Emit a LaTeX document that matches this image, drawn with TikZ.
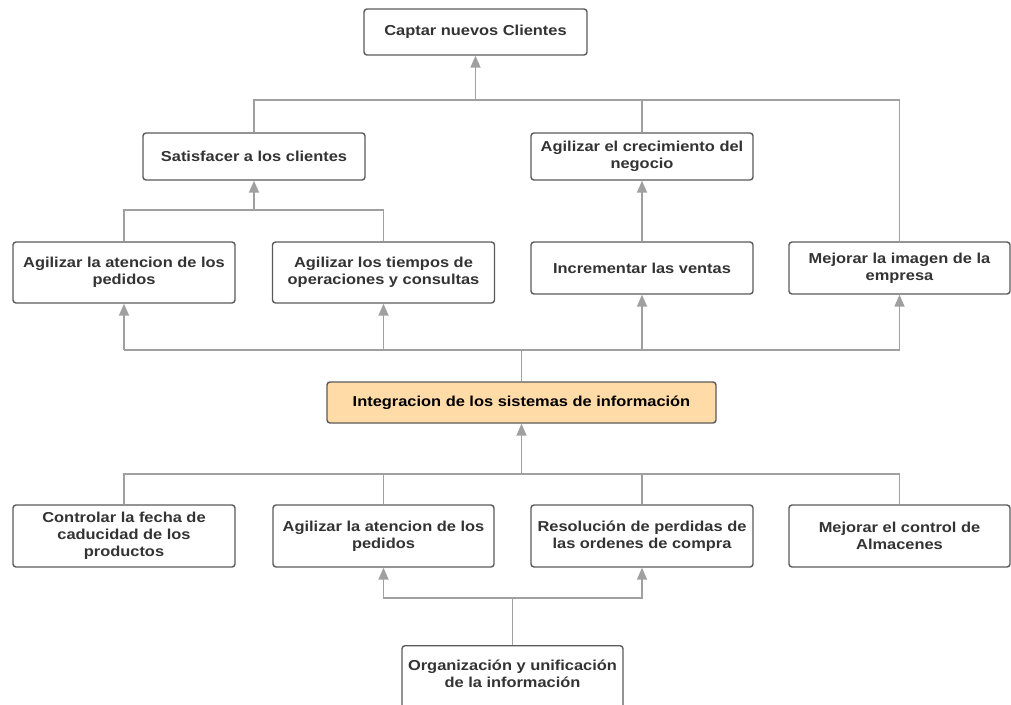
\documentclass[tikz,border=0pt]{standalone}
\usepackage{fontspec}
\setmainfont{Liberation Sans}[FakeStretch=1.14]
\usetikzlibrary{arrows.meta}
\definecolor{boxline}{HTML}{5A5A5A}
\definecolor{conn}{HTML}{A0A0A0}
\definecolor{txt}{HTML}{333333}
\definecolor{keyfill}{HTML}{FFDBA8}
\begin{document}
\begin{tikzpicture}[x=1pt,y=-1pt,
  box/.style={draw=boxline, line width=1.4pt, rounded corners=3pt, fill=white,
    minimum width=222pt, align=center, inner sep=2pt,
    font=\fontsize{14.4}{16.8}\selectfont\bfseries, text=txt},
  line/.style={draw=conn, line width=1.8pt},
  arr/.style={line, -{Triangle[width=10pt,length=12pt]}}]
\useasboundingbox (0,0) rectangle (1011,704);

% goals
\node[box, minimum width=223pt, minimum height=46pt] (captar) at (475.5,32) {Captar nuevos Clientes};
\node[box, minimum height=47pt] (sat) at (254,156.5) {Satisfacer a los clientes};
\node[box, minimum height=47pt] (crec) at (642,156.5) {Agilizar el crecimiento del\\negocio};
\node[box, minimum height=61pt] (at1) at (124,272.5) {Agilizar la atencion de los\\pedidos};
\node[box, minimum height=61pt] (at2) at (383.5,272.5) {Agilizar los tiempos de\\operaciones y consultas};
\node[box, minimum height=52pt] (inc) at (642,268) {Incrementar las ventas};
\node[box, minimum width=221pt, minimum height=52pt] (mej) at (899.5,268) {Mejorar la imagen de la\\empresa};

% central node
\node[box, fill=keyfill, text=black, minimum width=389pt, minimum height=41pt] (integ) at (521.5,402.5) {Integracion de los sistemas de información};

% bottom row
\node[box, minimum height=62pt] (b1) at (124,536) {Controlar la fecha de\\caducidad de los\\productos};
\node[box, minimum width=221pt, minimum height=62pt] (b2) at (383.5,536) {Agilizar la atencion de los\\pedidos};
\node[box, minimum height=62pt] (b3) at (642,536) {Resolución de perdidas de\\las ordenes de compra};
\node[box, minimum width=221pt, minimum height=62pt] (b4) at (899.5,536) {Mejorar el control de\\Almacenes};
% this box runs past the lower edge of the page
\node[box, minimum width=221pt, inner ysep=14pt, anchor=north] (org) at (512.5,645)
  {Organización y unificación\\de la información\\\rule{0pt}{24pt}};

% junction points
\coordinate (j1) at (475.5,100);
\coordinate (j2) at (254,210);
\coordinate (j3) at (521.5,350);
\coordinate (j4) at (521.5,474);
\coordinate (j5) at (512.5,598);

% top level
\draw[line] (sat.north) |- (j1) -| (mej.north);
\draw[line] (crec.north) -- (crec.north |- j1);
\draw[arr] (j1) -- (captar.south);

% satisfaction branch
\draw[line] (at1.north) |- (j2) -| (at2.north);
\draw[arr] (j2) -- (sat.south);
\draw[arr] (inc.north) -- (crec.south);

% from the central node upwards
\draw[line] (integ.north) -- (j3);
\draw[line] (at1.south |- j3) -- (mej.south |- j3);
\draw[arr] (at1.south |- j3) -- (at1.south);
\draw[arr] (at2.south |- j3) -- (at2.south);
\draw[arr] (inc.south |- j3) -- (inc.south);
\draw[arr] (mej.south |- j3) -- (mej.south);

% into the central node
\draw[line] (b1.north) |- (j4) -| (b4.north);
\draw[line] (b2.north) -- (b2.north |- j4);
\draw[line] (b3.north) -- (b3.north |- j4);
\draw[arr] (j4) -- (integ.south);

% organisation of information
\draw[line] (org.north) -- (j5);
\draw[arr] (j5) -| (b2.south);
\draw[arr] (j5) -| (b3.south);
\end{tikzpicture}
\end{document}
